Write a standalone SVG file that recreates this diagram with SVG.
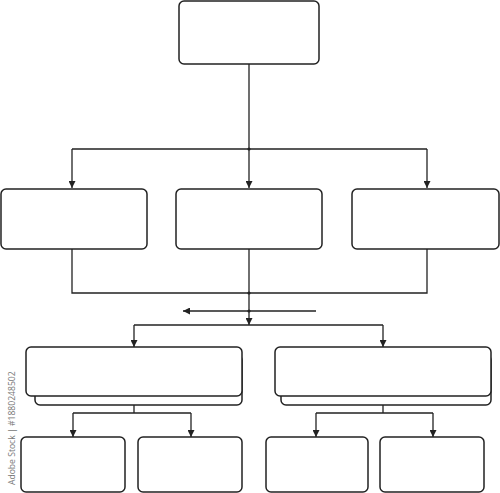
<svg xmlns="http://www.w3.org/2000/svg" width="500" height="493" viewBox="0 0 500 493">
<style>
.box{fill:#fff;stroke:#222;stroke-width:1.5}
.ln{fill:none;stroke:#222;stroke-width:1.3}
.arr{marker-end:url(#ah)}
.dot{fill:#222}
.wm{font-family:"Open Sans","Liberation Sans",sans-serif;font-size:8.6px;fill:#777}
</style>
<defs>
<marker id="ah" viewBox="0 0 10 10" refX="10" refY="5" markerWidth="7" markerHeight="7" markerUnits="userSpaceOnUse" orient="auto">
<path d="M0,0 L10,5 L0,10 Z" fill="#222"/>
</marker>
</defs>
<rect width="500" height="493" fill="#fff"/>
<g id="connectors">
<path class="ln" d="M249,64 V149 M72,149 H427"/>
<path class="ln arr" d="M72,149 V188"/>
<path class="ln arr" d="M249,149 V188"/>
<path class="ln arr" d="M427,149 V188"/>
<path class="ln" d="M72,249 V293 H427 V249"/>
<path class="ln arr" d="M249,249 V325"/>
<path class="ln arr" d="M316,311 H183"/>
<path class="ln" d="M134,325 H383"/>
<path class="ln arr" d="M134,325 V347"/>
<path class="ln arr" d="M383,325 V347"/>
<path class="ln" d="M134,405 V413 M73,413 H191"/>
<path class="ln arr" d="M73,413 V437"/>
<path class="ln arr" d="M191,413 V437"/>
<path class="ln" d="M383,405 V413 M316,413 H433"/>
<path class="ln arr" d="M316,413 V437"/>
<path class="ln arr" d="M433,413 V437"/>
<circle class="dot" cx="249" cy="149" r="1.6"/>
<circle class="dot" cx="249" cy="293" r="1.6"/>
<circle class="dot" cx="249" cy="311" r="1.6"/>
</g>
<g id="top"><rect class="box" x="179" y="1" width="140" height="63" rx="5"/></g>
<g id="mid1"><rect class="box" x="1" y="189" width="146" height="60" rx="5"/></g>
<g id="mid2"><rect class="box" x="176" y="189" width="146" height="60" rx="5"/></g>
<g id="mid3"><rect class="box" x="352" y="189" width="147" height="60" rx="5"/></g>
<g id="lowL">
<rect class="box" x="35" y="355" width="207" height="50" rx="5"/>
<rect class="box" x="26" y="347" width="216" height="49" rx="5"/>
</g>
<g id="lowR">
<rect class="box" x="281" y="355" width="210" height="50" rx="5"/>
<rect class="box" x="275" y="347" width="216" height="49" rx="5"/>
</g>
<g id="leafA"><rect class="box" x="21" y="437" width="104" height="55" rx="5"/></g>
<g id="leafB"><rect class="box" x="138" y="437" width="104" height="55" rx="5"/></g>
<g id="leafC"><rect class="box" x="266" y="437" width="102" height="55" rx="5"/></g>
<g id="leafD"><rect class="box" x="380" y="437" width="104" height="55" rx="5"/></g>
<text class="wm" transform="translate(15,485) rotate(-90)">Adobe Stock | #1880248502</text>
</svg>
